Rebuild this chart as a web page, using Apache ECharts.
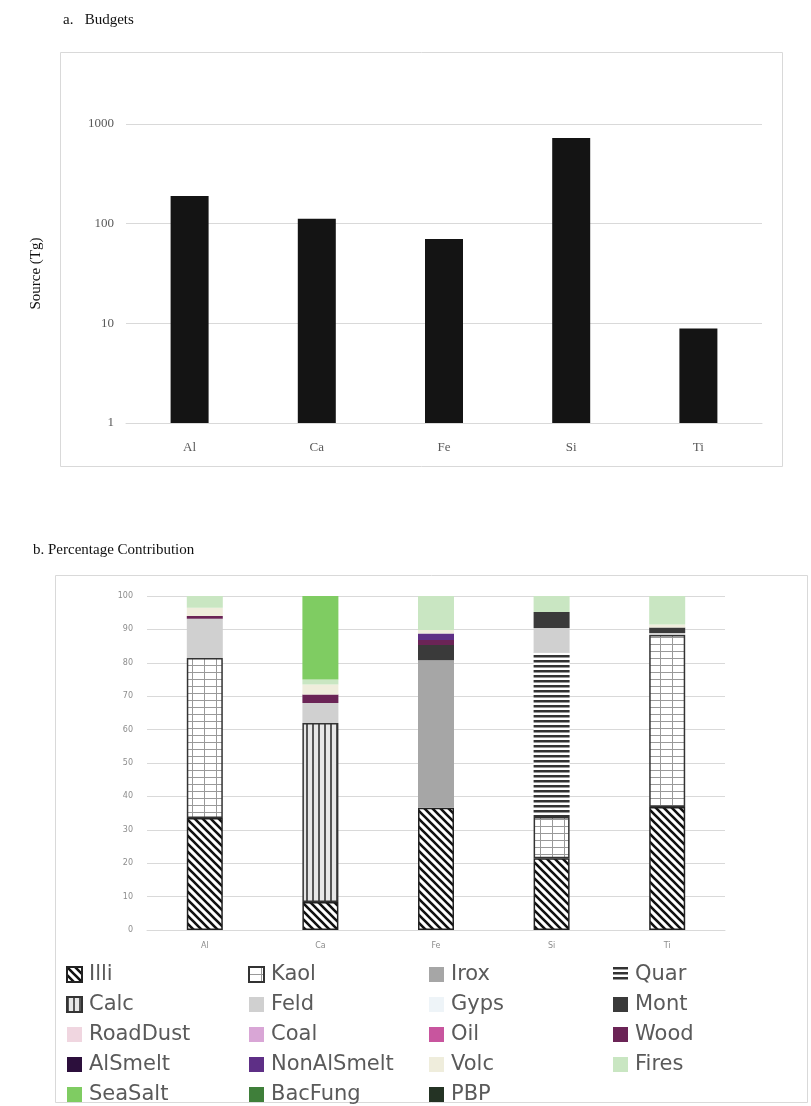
<!DOCTYPE html>
<html>
<head>
<meta charset="utf-8">
<script src="https://cdn.jsdelivr.net/npm/echarts@6/dist/echarts.min.js"></script>
<style>
  html, body { margin: 0; padding: 0; background: #fff; }
  #main { width: 811px; height: 1106px; }
</style>
</head>
<body>
<div id="main"></div>
<script>
// 元素类别
var elements = ["Al", "Ca", "Fe", "Si", "Ti"];

// a. 源排放量 (Tg)
var budgets = [190, 112, 70, 724, 8.9];

// b. 各来源百分比贡献 (Al, Ca, Fe, Si, Ti)
var illi       = [33.5, 8.4, 36.6, 21.5, 36.8];
var kaol       = [47.9, 0, 0, 12.3, 51.5];
var irox       = [0, 0, 44.2, 0, 0];
var quar       = [0, 0, 0, 49.2, 0];
var calc       = [0, 53.6, 0, 0, 0];
var feld       = [11.8, 6, 0, 7.4, 0.6];
var gyps       = [0, 0, 0, 0, 0];
var mont       = [0, 0, 4.5, 4.8, 1.7];
var roadDust   = [0, 0, 0, 0, 0];
var coal       = [0, 0, 0, 0, 0];
var oil        = [0, 0, 0, 0, 0];
var wood       = [0.8, 2.5, 1.5, 0, 0];
var alSmelt    = [0, 0, 0, 0, 0];
var nonAlSmelt = [0, 0, 2, 0, 0];
var volc       = [2.5, 3, 1, 0, 0.9];
var fires      = [3.5, 1.5, 10.2, 4.8, 8.5];
var seaSalt    = [0, 25, 0, 0, 0];
var bacFung    = [0, 0, 0, 0, 0];
var pbp        = [0, 0, 0, 0, 0];

var pctTicks = [0, 10, 20, 30, 40, 50, 60, 70, 80, 90, 100];

// 生成填充图案
function makePattern(w, h, draw) {
	var c = document.createElement("canvas");
	c.width = w;
	c.height = h;
	var ctx = c.getContext("2d");
	draw(ctx, w, h);
	return { image: c, repeat: "repeat" };
}

var patIlli = makePattern(8, 8, function(ctx, w, h) {
	ctx.fillStyle = "#fff";
	ctx.fillRect(0, 0, w, h);
	ctx.strokeStyle = "#111";
	ctx.lineWidth = 2.6;
	ctx.beginPath();
	ctx.moveTo(-2, -2); ctx.lineTo(w + 2, h + 2);
	ctx.moveTo(-2, h - 2); ctx.lineTo(2, h + 2);
	ctx.moveTo(w - 2, -2); ctx.lineTo(w + 2, 2);
	ctx.stroke();
});
var patKaol = makePattern(12, 7, function(ctx, w, h) {
	ctx.fillStyle = "#fff";
	ctx.fillRect(0, 0, w, h);
	ctx.fillStyle = "#999";
	ctx.fillRect(0, 0, w, 1);
	ctx.fillRect(0, 0, 1, h);
});
var patCalc = makePattern(6, 6, function(ctx, w, h) {
	ctx.fillStyle = "#e6e6e6";
	ctx.fillRect(0, 0, w, h);
	ctx.fillStyle = "#555";
	ctx.fillRect(0, 0, 2, h);
});
var patQuar = makePattern(6, 5, function(ctx, w, h) {
	ctx.fillStyle = "#fff";
	ctx.fillRect(0, 0, w, h);
	ctx.fillStyle = "#333";
	ctx.fillRect(0, 0, w, 2.5);
});

var sources = [
	{ name: "Illi", data: illi, color: patIlli, border: "#222" },
	{ name: "Kaol", data: kaol, color: patKaol, border: "#333" },
	{ name: "Irox", data: irox, color: "#a6a6a6" },
	{ name: "Quar", data: quar, color: patQuar },
	{ name: "Calc", data: calc, color: patCalc, border: "#333" },
	{ name: "Feld", data: feld, color: "#d0d0d0" },
	{ name: "Gyps", data: gyps, color: "#eef4f8" },
	{ name: "Mont", data: mont, color: "#3a3a3a" },
	{ name: "RoadDust", data: roadDust, color: "#f0d6e0" },
	{ name: "Coal", data: coal, color: "#d9a6d6" },
	{ name: "Oil", data: oil, color: "#c8559e" },
	{ name: "Wood", data: wood, color: "#6b2456" },
	{ name: "AlSmelt", data: alSmelt, color: "#2c0f3c" },
	{ name: "NonAlSmelt", data: nonAlSmelt, color: "#5e2f86" },
	{ name: "Volc", data: volc, color: "#efeddc" },
	{ name: "Fires", data: fires, color: "#c9e6c2" },
	{ name: "SeaSalt", data: seaSalt, color: "#7fcc62" },
	{ name: "BacFung", data: bacFung, color: "#3f7f3a" },
	{ name: "PBP", data: pbp, color: "#243324" }
];

var series = [{
	type: "bar",
	xAxisIndex: 0,
	yAxisIndex: 0,
	data: budgets,
	barWidth: 38,
	itemStyle: { color: "#141414" },
	silent: true
}];

for (var i = 0; i < sources.length; i++) {
	var s = sources[i];
	var style = { color: s.color };
	if (s.border) {
		style.borderColor = s.border;
		style.borderWidth = 1.5;
	}
	series.push({
		name: s.name,
		type: "bar",
		stack: "pct",
		xAxisIndex: 1,
		yAxisIndex: 1,
		barWidth: 36,
		itemStyle: style,
		data: s.data.map(function(v) { return v === 0 ? "-" : v; })
	});
}

// 图例分四列
var legendCols = [
	["Illi", "Calc", "RoadDust", "AlSmelt", "SeaSalt"],
	["Kaol", "Feld", "Coal", "NonAlSmelt", "BacFung"],
	["Irox", "Gyps", "Oil", "Volc", "PBP"],
	["Quar", "Mont", "Wood", "Fires"]
];
var legendLeft = [66, 248, 429, 613];
var legends = legendCols.map(function(col, idx) {
	return {
		orient: "vertical",
		left: legendLeft[idx],
		top: 964,
		height: 150,
		padding: 0,
		icon: "rect",
		itemWidth: 15,
		itemHeight: 15,
		itemGap: 9,
		selectedMode: false,
		data: col,
		textStyle: {
			fontFamily: "DejaVu Sans",
			fontSize: 21,
			lineHeight: 19,
			color: "#5a5a5a",
			padding: [0, 0, 0, 2]
		}
	};
});

var serif = "Liberation Serif";

var chart = echarts.init(document.getElementById("main"), null, { renderer: "canvas" });
chart.setOption({
	backgroundColor: "#fff",
	animation: false,
	title: [
		{ text: "a.   Budgets", left: 58, top: 8, textStyle: { fontFamily: serif, fontSize: 15, fontWeight: "normal", color: "#111" } },
		{ text: "b. Percentage Contribution", left: 28, top: 538, textStyle: { fontFamily: serif, fontSize: 15, fontWeight: "normal", color: "#111" } }
	],
	graphic: [
		{ type: "rect", shape: { x: 60.5, y: 52.5, width: 722, height: 414 }, style: { fill: null, stroke: "#d9d9d9", lineWidth: 1 }, silent: true, z: -1 },
		{ type: "rect", shape: { x: 55.5, y: 575.5, width: 752, height: 527 }, style: { fill: null, stroke: "#d9d9d9", lineWidth: 1 }, silent: true, z: -1 }
	],
	legend: legends,
	grid: [
		{ left: 126, right: 49, top: 124, bottom: 683 },
		{ left: 147, right: 86, top: 596, bottom: 176 }
	],
	xAxis: [
		{
			type: "category",
			gridIndex: 0,
			data: elements,
			axisLine: { lineStyle: { color: "#d9d9d9" } },
			axisTick: { show: false },
			axisLabel: { fontFamily: serif, fontSize: 13, color: "#595959", margin: 18 }
		},
		{
			type: "category",
			gridIndex: 1,
			data: elements,
			axisLine: { lineStyle: { color: "#d9d9d9" } },
			axisTick: { show: false },
			axisLabel: { fontFamily: "DejaVu Sans", fontSize: 8, color: "#8c8c8c", margin: 12 }
		}
	],
	yAxis: [
		{
			type: "log",
			gridIndex: 0,
			logBase: 10,
			min: 1,
			max: 1000,
			name: "Source (Tg)",
			nameLocation: "middle",
			nameGap: 82,
			nameTextStyle: { fontFamily: serif, fontSize: 15, color: "#111" },
			axisLine: { show: false },
			axisTick: { show: false },
			axisLabel: {
				fontFamily: serif, fontSize: 13, color: "#595959", margin: 12,
				formatter: function(v) { return String(v); }
			},
			splitLine: { lineStyle: { color: "#d9d9d9" } }
		},
		{
			type: "value",
			gridIndex: 1,
			min: pctTicks[0],
			max: pctTicks[pctTicks.length - 1],
			interval: 10,
			axisLine: { show: false },
			axisTick: { show: false },
			axisLabel: { fontFamily: "DejaVu Sans", fontSize: 8, color: "#8c8c8c", margin: 14 },
			splitLine: { lineStyle: { color: "#d9d9d9" } }
		}
	],
	series: series
});
</script>
</body>
</html>
